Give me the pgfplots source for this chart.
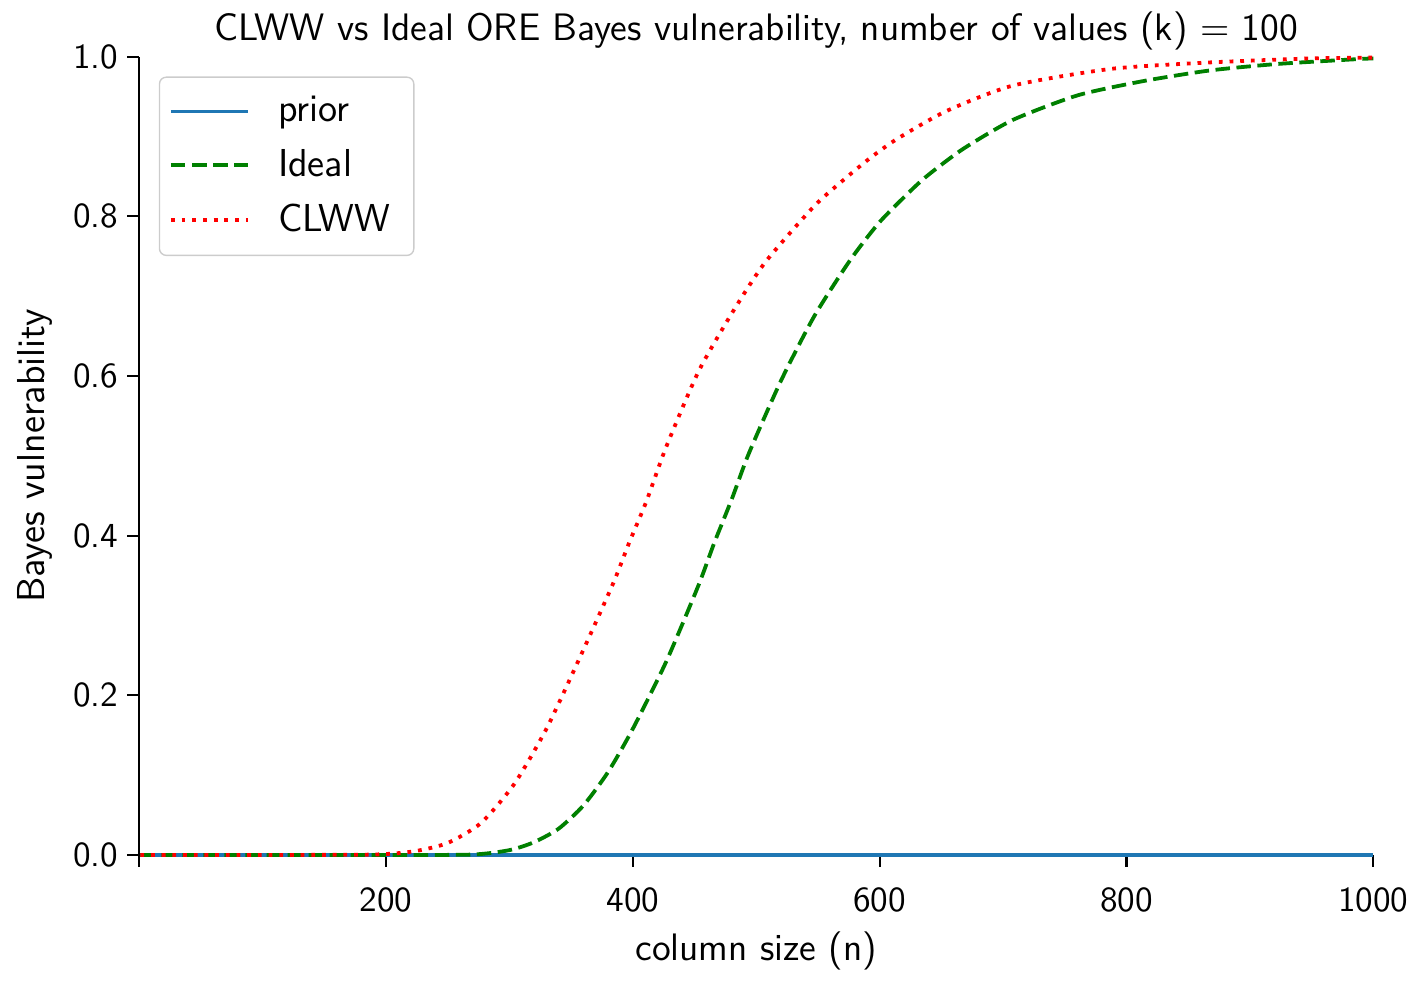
\documentclass[border=0pt]{standalone}
\usepackage{pgfplots}
\pgfplotsset{compat=1.18}
\definecolor{cblue}{RGB}{31,119,180}
\definecolor{cgreen}{RGB}{0,128,0}
\definecolor{cred}{RGB}{255,0,0}
\begin{document}
\sffamily
\begin{tikzpicture}
\begin{axis}[
  scale only axis,
  width=358pt, height=231.5pt,
  xmin=0, xmax=1000, ymin=0, ymax=1,
  axis lines*=left,
  axis line style={black, line width=0.6pt},
  clip=false,
  xtick={0,200,400,600,800,1000},
  xticklabels={,200,400,600,800,1000},
  ytick={0,0.2,0.4,0.6,0.8,1.0},
  yticklabels={0.0,0.2,0.4,0.6,0.8,1.0},
  tick align=outside,
  major tick length=3.4pt,
  tick style={black, line width=0.6pt},
  /pgf/number format/assume math mode=true,
  ticklabel style={font=\sffamily\fontsize{10.2}{12}\selectfont},
  xticklabel style={yshift=-2.5pt},
  yticklabel style={xshift=0.8pt},
  title={CLWW vs Ideal ORE Bayes vulnerability, number of values (k) $=$ 100},
  title style={font=\sffamily\fontsize{11.1}{13}\selectfont, yshift=-7.5pt},
  xlabel={column size (n)},
  ylabel={Bayes vulnerability},
  xlabel style={font=\sffamily\fontsize{11.1}{13}\selectfont, yshift=1.2pt},
  ylabel style={font=\sffamily\fontsize{11.3}{13}\selectfont, inner ysep=5pt, yshift=-2.5pt},
  legend style={at={(0,1)}, anchor=north west, xshift=5.7pt, yshift=-5.7pt,
    draw=black!20, rounded corners=2pt,
    font=\sffamily\fontsize{11.3}{14}\selectfont, inner xsep=2.8pt, inner ysep=3.5pt,
    row sep=2.5pt, nodes={inner xsep=4pt}},
  legend cell align=left,
  legend image code/.code={\draw[#1] (0pt,0pt) -- (22.4pt,0pt); \path (26.5pt,0pt);},
]
\addplot[cblue, line width=1.1pt] coordinates {(1,0) (1000,0)};
\addlegendentry{prior}
\addplot[cgreen, line width=1.1pt, dash pattern=on 4.2pt off 1.9pt, smooth, tension=0.4] coordinates {
(1,0) (200,0) (270,0.0005) (300,0.006) (320,0.016) (340,0.033) (360,0.062)
(380,0.104) (400,0.158) (427,0.242) (453,0.337) (466,0.391) (480,0.445) (494,0.503)
(520,0.594) (547,0.675) (576,0.745) (600,0.793) (627,0.835) (641,0.854)
(668,0.885) (708,0.921) (761,0.952) (815,0.970) (868,0.983) (922,0.991)
(986,0.997) (1000,0.998)};
\addlegendentry{Ideal}
\addplot[cred, line width=1.1pt, dash pattern=on 1.1pt off 2.0pt, smooth, tension=0.4] coordinates {
(1,0) (100,0) (190,0.0005) (223,0.0046) (250,0.015) (277,0.040) (304,0.089)
(330,0.158) (357,0.247) (384,0.340) (397,0.391) (411,0.443) (427,0.511)
(453,0.605) (480,0.678) (507,0.742) (547,0.813) (574,0.850) (593,0.874)
(614,0.897) (654,0.932) (708,0.964) (788,0.985) (868,0.993) (950,0.998)
(1000,0.999)};
\addlegendentry{CLWW}
\end{axis}
\end{tikzpicture}
\end{document}
